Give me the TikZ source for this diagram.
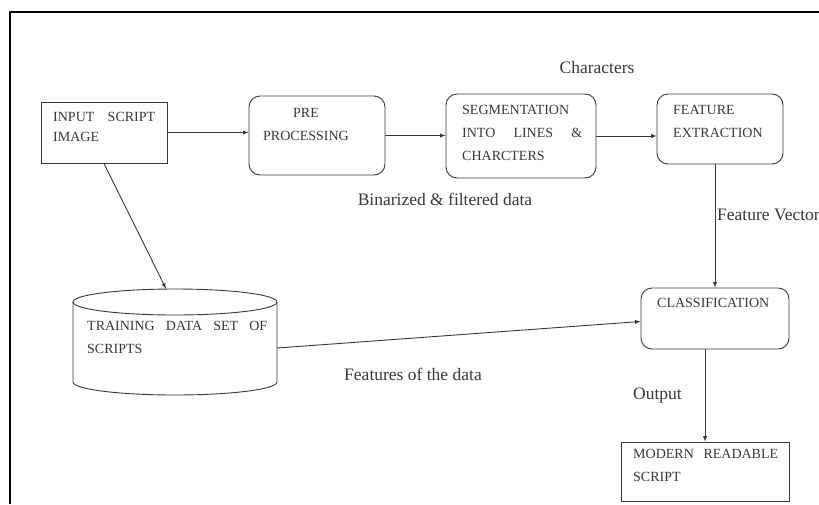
\documentclass[tikz,border=0pt]{standalone}
\usepackage{fontspec}
\setmainfont{Liberation Serif}
\usetikzlibrary{positioning}

\definecolor{inkgray}{HTML}{383838}
\tikzset{
  plainbox/.style={draw=inkgray,line width=0.9pt,inner sep=0pt},
  roundbox/.style={plainbox,rounded corners=11pt},
  boxtext/.style={inner sep=0pt,anchor=north west,align=left,text=inkgray,
    font=\fontsize{14}{23}\selectfont},
  flowlabel/.style={inner sep=0pt,text=inkgray,font=\fontsize{17.5}{20}\selectfont},
  flow/.style={draw=inkgray,line width=0.9pt,->,>=latex}
}

\begin{document}
\begin{tikzpicture}[x=1pt,y=-1pt]
\useasboundingbox (0,0) rectangle (819,504);
\draw[line width=2pt] (10,504) -- (10,12) -- (819,12);

% boxes
\node[plainbox,minimum width=126pt,minimum height=61pt] (input) at (104,132.5) {};
\node[roundbox,minimum width=136pt,minimum height=79pt] (pre) at (317,135.5) {};
\node[roundbox,minimum width=150pt,minimum height=84pt] (seg) at (521,136) {};
\node[roundbox,minimum width=126pt,minimum height=70pt] (feat) at (720,129) {};
\node[roundbox,minimum width=148pt,minimum height=61pt] (class) at (715,318.5) {};
\node[plainbox,minimum width=168pt,minimum height=59pt] (modern) at (705,471.5) {};

% data store
\node[inner sep=0pt,minimum width=204pt,minimum height=106pt] (db) at (175,342) {};
\draw[draw=inkgray,line width=0.9pt] (175,302) ellipse [x radius=102,y radius=13];
\draw[draw=inkgray,line width=0.9pt] (73,302) -- (73,382)
  arc [start angle=180,end angle=0,x radius=102,y radius=13] -- (277,302);

% texts in the boxes
\node[boxtext,text width=102pt,font=\fontsize{14}{20}\selectfont] (inputtxt) at (53,112.4) {INPUT\hfill SCRIPT\\IMAGE};
\node[boxtext,anchor=north,align=center] (pretxt) at (306,108.4) {PRE\\PROCESSING};
\node[boxtext,text width=120pt] (segtxt) at (462,105.4) {SEGMENTATION\\INTO\hfill LINES\hfill \&\\CHARCTERS};
\node[boxtext] (feattxt) at (673,105.4) {FEATURE\\EXTRACTION};
\node[boxtext] (classtxt) at (657,298.4) {CLASSIFICATION};
\node[boxtext,text width=180pt] (dbtxt) at (87,321.4) {TRAINING\hfill DATA\hfill SET\hfill OF\\SCRIPTS};
\node[boxtext,text width=145pt] (moderntxt) at (633,449.4) {MODERN\hfill READABLE\\SCRIPT};

% labels
\node[flowlabel] (charlbl) at (597,68) {Characters};
\node[flowlabel] (binlbl) at (445,199) {Binarized \& filtered data};
\node[flowlabel,anchor=west] (veclbl) at (717,215) {Feature Vector};
\node[flowlabel] (datalbl) at (413,374) {Features of the data};
\node[flowlabel] (outlbl) at (657.5,396) {Output};

% connectors
\draw[flow] (input.east) -- (input.east -| pre.west);
\draw[flow] (pre.east) -- (pre.east -| seg.west);
\draw[flow] (seg.east) -- (seg.east -| feat.west);
\draw[flow] (class.north |- feat.south) -- (class.north);
\draw[flow] (modern.north |- class.south) -- (modern.north);
\draw[flow] (input.south) -- ([xshift=-9pt]db.north);
\draw[flow] ([yshift=-6pt]db.east) -- ([yshift=-3pt]class.west);
\end{tikzpicture}
\end{document}
